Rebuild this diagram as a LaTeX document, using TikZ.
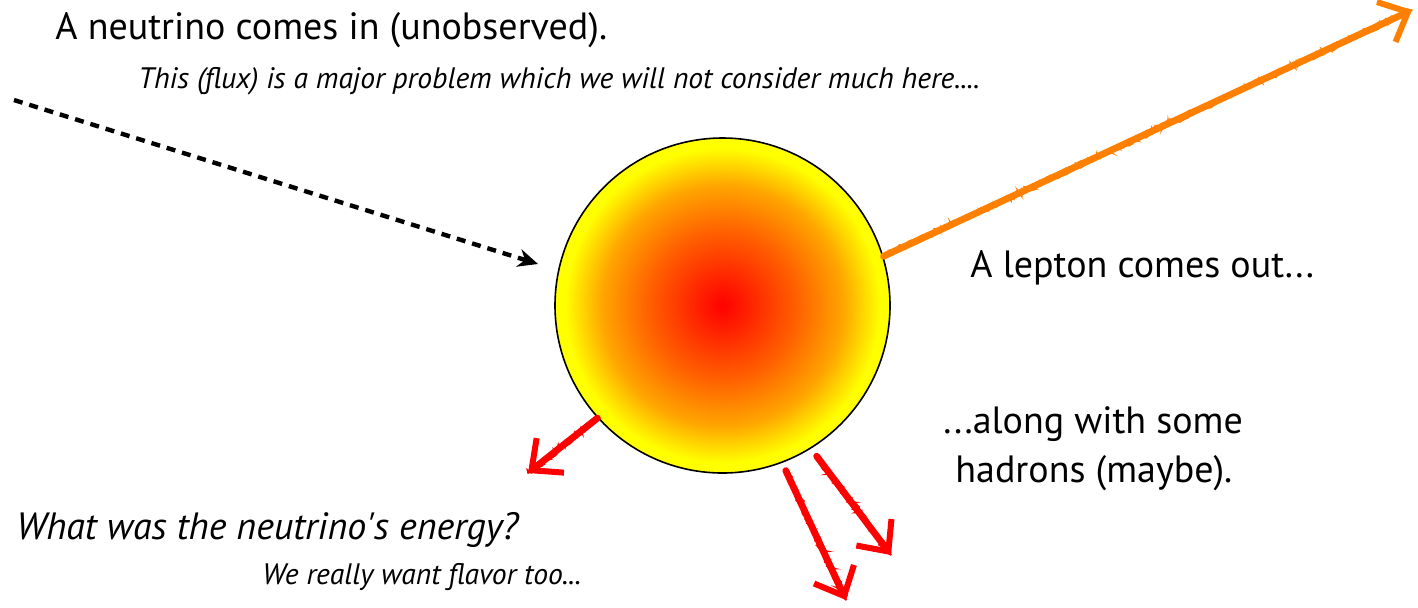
\documentclass[tikz,border=0pt]{standalone}
\usepackage{fontspec}
\setmainfont{PT Sans}
\usepackage{tikz}
\usetikzlibrary{arrows.meta,decorations.pathmorphing}
\colorlet{fireA}{red}
\colorlet{fireB}{orange!75!red}
\colorlet{fireC}{orange!70!yellow}
\colorlet{fireD}{yellow}
\pgfdeclareradialshading{fireball}{\pgfpoint{0bp}{0bp}}{color(0bp)=(fireA); color(11bp)=(fireB); color(18bp)=(fireC); color(23.5bp)=(fireD); color(25bp)=(fireD); color(50bp)=(fireD)}
\tikzset{
  big/.style={font=\fontsize{19}{23}\selectfont, anchor=base west, inner sep=0pt},
  small/.style={font=\fontsize{14.8}{17}\selectfont\itshape, anchor=base west, inner sep=0pt},
  sketch/.style={line width=3.4pt, draw=#1, line cap=round,
    -{Straight Barb[length=12pt,width=22pt,line width=3pt]},
    postaction={draw=#1, -, line width=0.8pt, decorate,
      decoration={random steps, segment length=1.2pt, amplitude=1.6pt}},
    postaction={draw=#1, -, line width=0.6pt, decorate,
      decoration={random steps, segment length=2pt, amplitude=2pt}}}
}

\begin{document}
\begin{tikzpicture}[x=0.5pt,y=-0.5pt]
\useasboundingbox (0,0) rectangle (1418,607);
% the interaction
\node[circle, draw, thick, shading=fireball, minimum size=167.5pt, inner sep=0pt] (ball) at (722.5,305.5) {};
% texts
\node[big] (intro) at (55,39) {A neutrino comes in (unobserved).};
\node[small] (flux) at (138,88) {This (flux) is a major problem which we will not consider much here....};
\node[big] (lepton) at (970,277) {A lepton comes out...};
\node[big] (hadA) at (943,433) {...along with some};
\node[big] (hadB) at (955,482) {hadrons (maybe).};
\node[big,font=\fontsize{19}{23}\selectfont\itshape] (energy) at (16,539) {What was the neutrino\textquotesingle s energy?};
\node[small] (flavor) at (262,584) {We really want flavor too...};
% incoming and outgoing particles
\coordinate (nu) at (14,100);
\coordinate (nuhit) at (538,264);
\coordinate (lep) at (1412,10);
\coordinate (hA) at (528,473);
\coordinate (hB) at (846,600);
\coordinate (hC) at (891,555);
\draw[line width=2.2pt, dash pattern=on 4.5pt off 3.5pt, -{Stealth[length=10pt,width=9pt]}] (nu) -- (nuhit);
\draw[sketch=orange] (ball.17) -- (lep);
\draw[sketch=red] (ball.222) -- (hA);
\draw[sketch=red] ([shift={(3,8)}]ball.291) -- (hB);
\draw[sketch=red] ([shift={(5,8)}]ball.302) -- (hC);
\end{tikzpicture}
\end{document}
